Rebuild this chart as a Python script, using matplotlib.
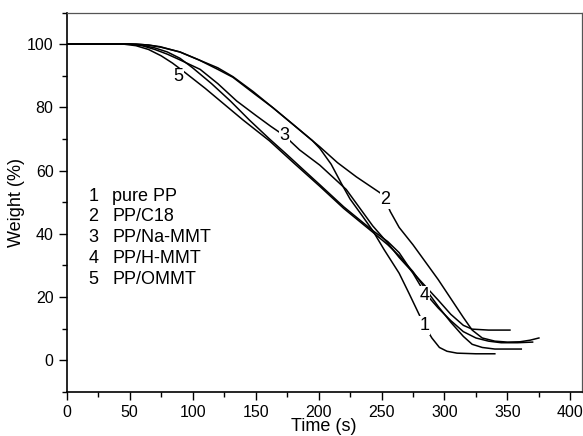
import matplotlib
matplotlib.use("Agg")
import matplotlib.pyplot as plt
from matplotlib.ticker import MultipleLocator

plt.rcParams['font.family'] = ['Liberation Sans', 'DejaVu Sans']

# Curve 1: pure PP
t1 = [0, 55, 65, 75, 90, 105, 120, 132, 150, 164, 180, 195, 201, 210, 218, 225, 235, 243, 252, 264, 272, 278, 284, 290, 296, 302, 310, 325, 340]
w1 = [100, 100, 99.7, 99, 97.5, 95, 92, 89.5, 84, 79.8, 74.5, 69.5, 67, 62, 56, 51, 45.5, 41, 35, 27.5, 21, 16, 11, 7, 4, 2.8, 2.2, 2, 2]
# Curve 2: PP/C18
t2 = [0, 55, 65, 74, 90, 105, 120, 132, 148, 164, 180, 201, 215, 230, 249, 253, 257, 264, 275, 285, 295, 305, 315, 322, 330, 340, 350, 360, 368, 375]
w2 = [100, 100, 99.7, 99.2, 97.5, 95, 92.5, 89.7, 85, 79.8, 74.5, 67.5, 62.5, 58, 52.9, 50.7, 47, 42, 36.5, 31, 25.5, 19.5, 13.5, 9.5, 7, 6, 5.7, 5.8, 6.3, 7]
# Curve 3: PP/Na-MMT
t3 = [0, 50, 60, 70, 80, 90, 106, 120, 135, 150, 162, 173, 185, 201, 222, 243, 255, 264, 280, 295, 305, 315, 322, 335, 352]
w3 = [100, 100, 99.5, 98.3, 96.8, 95, 92, 87.5, 82, 77.5, 74, 71, 66.5, 61.7, 54, 42.5, 37, 32.5, 25.5, 19, 14.5, 11, 9.8, 9.5, 9.5]
# Curve 4: PP/H-MMT
t4 = [0, 50, 60, 70, 80, 90, 100, 115, 130, 145, 161, 175, 190, 201, 220, 243, 255, 264, 275, 284, 295, 305, 315, 325, 335, 345, 358, 370]
w4 = [100, 100, 99.6, 98.8, 97.5, 95.5, 92.5, 87.5, 82, 76, 70, 65, 59.5, 55.5, 48.5, 41, 37.5, 34, 27.5, 21.5, 16.5, 12.5, 9, 7, 6, 5.5, 5.5, 5.7]
# Curve 5: PP/OMMT
t5 = [0, 45, 55, 65, 75, 84, 94, 110, 125, 140, 161, 180, 201, 220, 243, 255, 264, 275, 285, 295, 305, 315, 322, 330, 340, 361]
w5 = [100, 100, 99.5, 98.3, 96.3, 94, 91, 86, 81, 76, 69.4, 62.5, 55, 48, 40.5, 36.5, 33, 28, 22.5, 17, 12, 7.5, 5, 4, 3.5, 3.5]

numbers = ["1", "2", "3", "4", "5"]
names = ["pure PP", "PP/C18", "PP/Na-MMT", "PP/H-MMT", "PP/OMMT"]
legend_y = [51.9, 45.3, 38.8, 32.1, 25.5]
label_pos = [(284, 11), (253, 50.7), (173, 71.2), (284, 20.6), (89, 89.6)]

fig = plt.figure(figsize=(5.83, 4.36), dpi=100)
ax = fig.add_axes([0.1144, 0.1016, 0.8834, 0.8697])

for t, w in [(t1, w1), (t2, w2), (t3, w3), (t4, w4), (t5, w5)]:
    ax.plot(t, w, color='black', lw=1.1)

for num, (x, y) in zip(numbers, label_pos):
    ax.text(x, y, num, fontsize=13, ha='center', va='center', zorder=5,
            bbox=dict(facecolor='white', edgecolor='none', pad=0.5))

for num, name, y in zip(numbers, names, legend_y):
    ax.text(21, y, num, fontsize=13, ha='center', va='center')
    ax.text(36, y, name, fontsize=13, ha='left', va='center')

ax.set_xlim(0, 409)
ax.set_ylim(-10, 110)
ax.xaxis.set_major_locator(MultipleLocator(50))
ax.xaxis.set_minor_locator(MultipleLocator(25))
ax.set_yticks([0, 20, 40, 60, 80, 100])
ax.yaxis.set_minor_locator(MultipleLocator(10))
ax.tick_params(which='major', direction='out', length=6, width=1, labelsize=11.5)
ax.tick_params(which='minor', direction='out', length=3.5, width=1)
ax.tick_params(top=False, right=False, which='both')
for s in ['left', 'bottom']:
    ax.spines[s].set_linewidth(1.2)
for s in ['top', 'right']:
    ax.spines[s].set_linewidth(0.9)
    ax.spines[s].set_color('#555555')

ax.set_xlabel('Time (s)', fontsize=13, labelpad=-1.5)
ax.set_ylabel('Weight (%)', fontsize=13, labelpad=1)

fig.savefig('out.png', dpi=100)
